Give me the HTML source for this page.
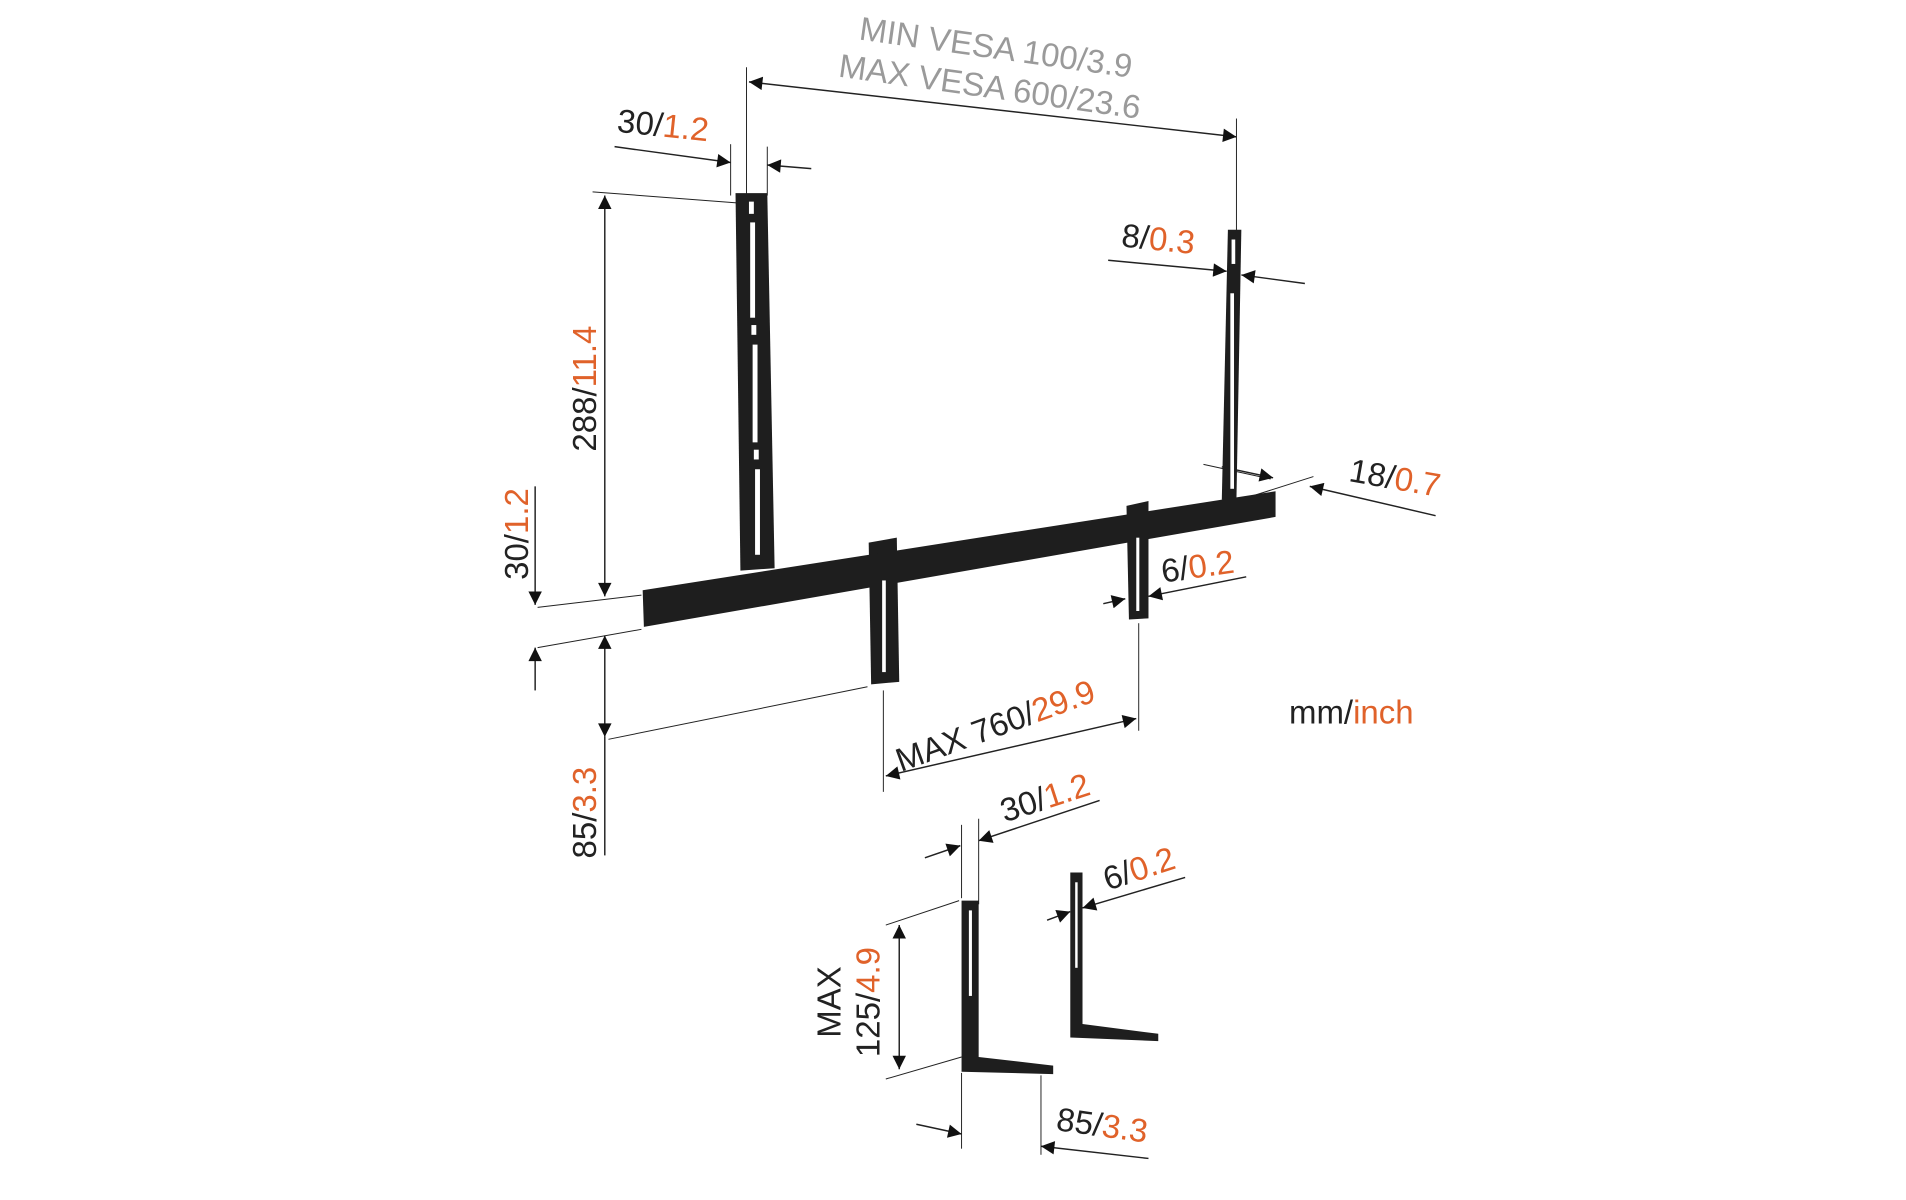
<!DOCTYPE html>
<html><head><meta charset="utf-8"><style>
html,body{margin:0;padding:0;background:#fff;}
svg{display:block}
text{font-family:"Liberation Sans",sans-serif;font-size:27px;fill:#222}
.o{fill:#e0622a}
.g{fill:#9a9a9a}
</style></head><body>
<svg width="1906" height="1200" viewBox="0 0 1560 982" preserveAspectRatio="none" xmlns="http://www.w3.org/2000/svg">
<defs>
<marker id="a" viewBox="0 0 10 10" refX="10" refY="5" markerWidth="18" markerHeight="11" markerUnits="userSpaceOnUse" orient="auto-start-reverse"><path d="M0,0L10,5L0,10z" fill="#111"/></marker>
</defs>
<g stroke="#222" stroke-width="0.8" fill="none">
<line x1="611" y1="55" x2="611" y2="160"/><line x1="1012" y1="97" x2="1012" y2="190"/>
<line x1="598" y1="118" x2="598" y2="160"/><line x1="628" y1="120" x2="628" y2="160"/>
<line x1="485" y1="157" x2="603" y2="166"/>
<line x1="440" y1="497" x2="525" y2="487"/><line x1="440" y1="530" x2="525" y2="515"/>
<line x1="498" y1="605" x2="710" y2="562"/>
<line x1="723" y1="565" x2="723" y2="648"/><line x1="932" y1="510" x2="932" y2="598"/>
<line x1="985" y1="380" x2="1040" y2="392"/><line x1="1012" y1="410" x2="1075" y2="390"/>
<line x1="787" y1="675" x2="787" y2="735"/><line x1="801" y1="670" x2="801" y2="740"/>
<line x1="725" y1="757" x2="785" y2="737"/><line x1="725" y1="883" x2="787" y2="865"/>
<line x1="787" y1="878" x2="787" y2="940"/><line x1="852" y1="880" x2="852" y2="945"/>
<line x1="613" y1="67" x2="1012" y2="112" marker-start="url(#a)" marker-end="url(#a)" stroke-width="1.2"/>
<line x1="503" y1="120" x2="598" y2="133" marker-end="url(#a)" stroke-width="1.2"/>
<line x1="664" y1="138" x2="628" y2="135" marker-end="url(#a)" stroke-width="1.2"/>
<line x1="495" y1="160" x2="495" y2="488" marker-start="url(#a)" marker-end="url(#a)" stroke-width="1.2"/>
<line x1="438" y1="398" x2="438" y2="495" marker-end="url(#a)" stroke-width="1.2"/>
<line x1="438" y1="565" x2="438" y2="530" marker-end="url(#a)" stroke-width="1.2"/>
<line x1="495" y1="520" x2="495" y2="603" marker-start="url(#a)" marker-end="url(#a)" stroke-width="1.2"/>
<line x1="495" y1="603" x2="495" y2="700" stroke-width="1.2"/>
<line x1="907" y1="213" x2="1004" y2="222" marker-end="url(#a)" stroke-width="1.2"/>
<line x1="1068" y1="232" x2="1016" y2="225" marker-end="url(#a)" stroke-width="1.2"/>
<line x1="1000" y1="382" x2="1042" y2="391" marker-end="url(#a)" stroke-width="1.2"/>
<line x1="1175" y1="422" x2="1072" y2="398" marker-end="url(#a)" stroke-width="1.2"/>
<line x1="903" y1="494" x2="921" y2="490" marker-end="url(#a)" stroke-width="1.2"/>
<line x1="1020" y1="472" x2="940" y2="488" marker-end="url(#a)" stroke-width="1.2"/>
<line x1="725" y1="635" x2="930" y2="588" marker-start="url(#a)" marker-end="url(#a)" stroke-width="1.2"/>
<line x1="757" y1="702" x2="786" y2="692" marker-end="url(#a)" stroke-width="1.2"/>
<line x1="900" y1="655" x2="801" y2="688" marker-end="url(#a)" stroke-width="1.2"/>
<line x1="857" y1="753" x2="876" y2="746" marker-end="url(#a)" stroke-width="1.2"/>
<line x1="970" y1="718" x2="886" y2="743" marker-end="url(#a)" stroke-width="1.2"/>
<line x1="736" y1="757" x2="736" y2="875" marker-start="url(#a)" marker-end="url(#a)" stroke-width="1.2"/>
<line x1="750" y1="920" x2="787" y2="928" marker-end="url(#a)" stroke-width="1.2"/>
<line x1="940" y1="948" x2="852" y2="938" marker-end="url(#a)" stroke-width="1.2"/>
</g>
<g fill="#1e1e1e">
<polygon points="602,158 628,158 634,465 606,467"/>
<polygon points="1005,188 1016,188 1012,408 1000,409"/>
<polygon points="711,444 734,440 736,558 713,560"/>
<polygon points="922,414 940,410 940,506 924,507"/>
<polygon points="526,483 1044,402 1044,423 527,513"/>
<polygon points="787,737 801,737 801,865 862,872 862,879 787,877"/>
<polygon points="876,714 886,714 886,838 948,846 948,852 876,849"/>
</g>
<g fill="#fff">
<rect x="613" y="165" width="4" height="10"/><rect x="614" y="182" width="4" height="78"/>
<rect x="615" y="266" width="4" height="8"/><rect x="616" y="282" width="4" height="80"/>
<rect x="617" y="368" width="4" height="8"/><rect x="618" y="384" width="4" height="70"/>
<rect x="1008" y="196" width="3" height="20"/><rect x="1007" y="240" width="3" height="160"/>
<rect x="722" y="475" width="3" height="75"/><rect x="930" y="440" width="2.5" height="60"/>
<rect x="793" y="745" width="2.5" height="70"/><rect x="880" y="722" width="2" height="70"/>
</g>
<g transform="rotate(8 815 40)"><text x="815" y="48" text-anchor="middle" class="g" font-size="28">MIN VESA 100/3.9</text></g>
<g transform="rotate(8 810 72)"><text x="810" y="80" text-anchor="middle" class="g" font-size="28">MAX VESA 600/23.6</text></g>
<g transform="rotate(6 545 104)"><text x="505" y="112">30/<tspan class="o">1.2</tspan></text></g>
<g transform="rotate(6 950 196)"><text x="918" y="205">8/<tspan class="o">0.3</tspan></text></g>
<g transform="rotate(10 1140 392)"><text x="1104" y="400">18/<tspan class="o">0.7</tspan></text></g>
<g transform="rotate(-8 985 462)"><text x="950" y="472">6/<tspan class="o">0.2</tspan></text></g>
<g transform="rotate(-90 488 318)"><text x="488" y="318" text-anchor="middle">288/<tspan class="o">11.4</tspan></text></g>
<g transform="rotate(-90 432 437)"><text x="432" y="437" text-anchor="middle">30/<tspan class="o">1.2</tspan></text></g>
<g transform="rotate(-90 488 665)"><text x="488" y="665" text-anchor="middle">85/<tspan class="o">3.3</tspan></text></g>
<g transform="rotate(-20 815 595)"><text x="815" y="603" text-anchor="middle">MAX 760/<tspan class="o">29.9</tspan></text></g>
<text x="1055" y="592" font-size="29">mm/<tspan class="o">inch</tspan></text>
<g transform="rotate(-18 855 652)"><text x="855" y="662" text-anchor="middle">30/<tspan class="o">1.2</tspan></text></g>
<g transform="rotate(-18 932 710)"><text x="932" y="720" text-anchor="middle">6/<tspan class="o">0.2</tspan></text></g>
<g transform="rotate(-90 688 820)"><text x="688" y="820" text-anchor="middle">MAX</text></g>
<g transform="rotate(-90 720 820)"><text x="720" y="820" text-anchor="middle">125/<tspan class="o">4.9</tspan></text></g>
<g transform="rotate(8 902 922)"><text x="902" y="930" text-anchor="middle">85/<tspan class="o">3.3</tspan></text></g>
</svg>
</body></html>
